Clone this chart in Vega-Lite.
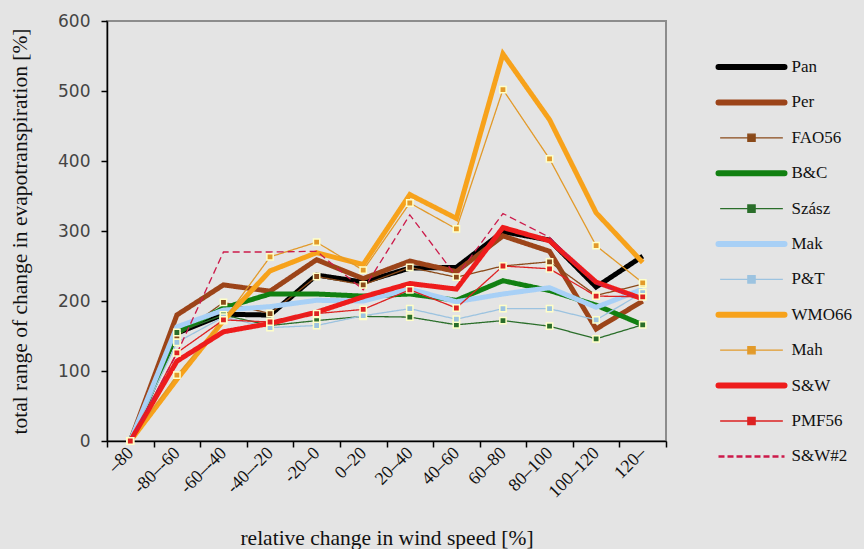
{
  "$schema": "https://vega.github.io/schema/vega-lite/v6.json",
  "width": 559,
  "height": 420,
  "autosize": "none",
  "padding": {"left": 107, "top": 21, "right": 198, "bottom": 108},
  "background": "#e4e4e4",
  "config": {
    "view": {"fill": "#e4e4e4", "stroke": "#8c8c8c", "strokeWidth": 2},
    "axis": {"domainColor": "#000000", "domainWidth": 1.5, "tickColor": "#000000", "tickWidth": 1.5, "tickSize": 6, "grid": false, "titleFont": "Liberation Serif", "titleFontSize": 21.5, "titleFontWeight": "normal", "titleColor": "#111111"}
  },
  "data": {
    "values": [
      {"c": "–80", "s": "Pan", "v": 0}, {"c": "-80–-60", "s": "Pan", "v": 154}, {"c": "-60–-40", "s": "Pan", "v": 181}, {"c": "-40–-20", "s": "Pan", "v": 180}, {"c": "-20–0", "s": "Pan", "v": 237}, {"c": "0–20", "s": "Pan", "v": 227}, {"c": "20–40", "s": "Pan", "v": 247}, {"c": "40–60", "s": "Pan", "v": 248}, {"c": "60–80", "s": "Pan", "v": 299}, {"c": "80–100", "s": "Pan", "v": 287}, {"c": "100–120", "s": "Pan", "v": 220}, {"c": "120–", "s": "Pan", "v": 264},
      {"c": "–80", "s": "Per", "v": 0}, {"c": "-80–-60", "s": "Per", "v": 180}, {"c": "-60–-40", "s": "Per", "v": 223}, {"c": "-40–-20", "s": "Per", "v": 214}, {"c": "-20–0", "s": "Per", "v": 259}, {"c": "0–20", "s": "Per", "v": 232}, {"c": "20–40", "s": "Per", "v": 257}, {"c": "40–60", "s": "Per", "v": 242}, {"c": "60–80", "s": "Per", "v": 293}, {"c": "80–100", "s": "Per", "v": 271}, {"c": "100–120", "s": "Per", "v": 160}, {"c": "120–", "s": "Per", "v": 200},
      {"c": "–80", "s": "FAO56", "v": 0}, {"c": "-80–-60", "s": "FAO56", "v": 150}, {"c": "-60–-40", "s": "FAO56", "v": 198}, {"c": "-40–-20", "s": "FAO56", "v": 182}, {"c": "-20–0", "s": "FAO56", "v": 235}, {"c": "0–20", "s": "FAO56", "v": 223}, {"c": "20–40", "s": "FAO56", "v": 248}, {"c": "40–60", "s": "FAO56", "v": 234}, {"c": "60–80", "s": "FAO56", "v": 250}, {"c": "80–100", "s": "FAO56", "v": 256}, {"c": "100–120", "s": "FAO56", "v": 208}, {"c": "120–", "s": "FAO56", "v": 224},
      {"c": "–80", "s": "B&C", "v": 0}, {"c": "-80–-60", "s": "B&C", "v": 155}, {"c": "-60–-40", "s": "B&C", "v": 190}, {"c": "-40–-20", "s": "B&C", "v": 210}, {"c": "-20–0", "s": "B&C", "v": 210}, {"c": "0–20", "s": "B&C", "v": 207}, {"c": "20–40", "s": "B&C", "v": 210}, {"c": "40–60", "s": "B&C", "v": 201}, {"c": "60–80", "s": "B&C", "v": 229}, {"c": "80–100", "s": "B&C", "v": 215}, {"c": "100–120", "s": "B&C", "v": 194}, {"c": "120–", "s": "B&C", "v": 166},
      {"c": "–80", "s": "Szász", "v": 0}, {"c": "-80–-60", "s": "Szász", "v": 155}, {"c": "-60–-40", "s": "Szász", "v": 180}, {"c": "-40–-20", "s": "Szász", "v": 165}, {"c": "-20–0", "s": "Szász", "v": 172}, {"c": "0–20", "s": "Szász", "v": 178}, {"c": "20–40", "s": "Szász", "v": 177}, {"c": "40–60", "s": "Szász", "v": 166}, {"c": "60–80", "s": "Szász", "v": 172}, {"c": "80–100", "s": "Szász", "v": 164}, {"c": "100–120", "s": "Szász", "v": 146}, {"c": "120–", "s": "Szász", "v": 166},
      {"c": "–80", "s": "Mak", "v": 0}, {"c": "-80–-60", "s": "Mak", "v": 163}, {"c": "-60–-40", "s": "Mak", "v": 187}, {"c": "-40–-20", "s": "Mak", "v": 192}, {"c": "-20–0", "s": "Mak", "v": 201}, {"c": "0–20", "s": "Mak", "v": 200}, {"c": "20–40", "s": "Mak", "v": 217}, {"c": "40–60", "s": "Mak", "v": 199}, {"c": "60–80", "s": "Mak", "v": 210}, {"c": "80–100", "s": "Mak", "v": 219}, {"c": "100–120", "s": "Mak", "v": 191}, {"c": "120–", "s": "Mak", "v": 217},
      {"c": "–80", "s": "P&T", "v": 0}, {"c": "-80–-60", "s": "P&T", "v": 141}, {"c": "-60–-40", "s": "P&T", "v": 177}, {"c": "-40–-20", "s": "P&T", "v": 162}, {"c": "-20–0", "s": "P&T", "v": 165}, {"c": "0–20", "s": "P&T", "v": 179}, {"c": "20–40", "s": "P&T", "v": 189}, {"c": "40–60", "s": "P&T", "v": 174}, {"c": "60–80", "s": "P&T", "v": 189}, {"c": "80–100", "s": "P&T", "v": 189}, {"c": "100–120", "s": "P&T", "v": 173}, {"c": "120–", "s": "P&T", "v": 212},
      {"c": "–80", "s": "WMO66", "v": 0}, {"c": "-80–-60", "s": "WMO66", "v": 88}, {"c": "-60–-40", "s": "WMO66", "v": 172}, {"c": "-40–-20", "s": "WMO66", "v": 243}, {"c": "-20–0", "s": "WMO66", "v": 269}, {"c": "0–20", "s": "WMO66", "v": 252}, {"c": "20–40", "s": "WMO66", "v": 352}, {"c": "40–60", "s": "WMO66", "v": 318}, {"c": "60–80", "s": "WMO66", "v": 553}, {"c": "80–100", "s": "WMO66", "v": 459}, {"c": "100–120", "s": "WMO66", "v": 326}, {"c": "120–", "s": "WMO66", "v": 255},
      {"c": "–80", "s": "Mah", "v": 0}, {"c": "-80–-60", "s": "Mah", "v": 94}, {"c": "-60–-40", "s": "Mah", "v": 172}, {"c": "-40–-20", "s": "Mah", "v": 263}, {"c": "-20–0", "s": "Mah", "v": 284}, {"c": "0–20", "s": "Mah", "v": 244}, {"c": "20–40", "s": "Mah", "v": 340}, {"c": "40–60", "s": "Mah", "v": 303}, {"c": "60–80", "s": "Mah", "v": 502}, {"c": "80–100", "s": "Mah", "v": 403}, {"c": "100–120", "s": "Mah", "v": 279}, {"c": "120–", "s": "Mah", "v": 226},
      {"c": "–80", "s": "S&W", "v": 0}, {"c": "-80–-60", "s": "S&W", "v": 114}, {"c": "-60–-40", "s": "S&W", "v": 156}, {"c": "-40–-20", "s": "S&W", "v": 168}, {"c": "-20–0", "s": "S&W", "v": 184}, {"c": "0–20", "s": "S&W", "v": 206}, {"c": "20–40", "s": "S&W", "v": 225}, {"c": "40–60", "s": "S&W", "v": 217}, {"c": "60–80", "s": "S&W", "v": 305}, {"c": "80–100", "s": "S&W", "v": 286}, {"c": "100–120", "s": "S&W", "v": 227}, {"c": "120–", "s": "S&W", "v": 203},
      {"c": "–80", "s": "PMF56", "v": 0}, {"c": "-80–-60", "s": "PMF56", "v": 126}, {"c": "-60–-40", "s": "PMF56", "v": 173}, {"c": "-40–-20", "s": "PMF56", "v": 170}, {"c": "-20–0", "s": "PMF56", "v": 182}, {"c": "0–20", "s": "PMF56", "v": 188}, {"c": "20–40", "s": "PMF56", "v": 216}, {"c": "40–60", "s": "PMF56", "v": 190}, {"c": "60–80", "s": "PMF56", "v": 250}, {"c": "80–100", "s": "PMF56", "v": 246}, {"c": "100–120", "s": "PMF56", "v": 207}, {"c": "120–", "s": "PMF56", "v": 206},
      {"c": "–80", "s": "S&W#2", "v": 0}, {"c": "-80–-60", "s": "S&W#2", "v": 125}, {"c": "-60–-40", "s": "S&W#2", "v": 270}, {"c": "-40–-20", "s": "S&W#2", "v": 270}, {"c": "-20–0", "s": "S&W#2", "v": 271}, {"c": "0–20", "s": "S&W#2", "v": 216}, {"c": "20–40", "s": "S&W#2", "v": 323}, {"c": "40–60", "s": "S&W#2", "v": 235}, {"c": "60–80", "s": "S&W#2", "v": 325}, {"c": "80–100", "s": "S&W#2", "v": 291}, {"c": "100–120", "s": "S&W#2", "v": 225}, {"c": "120–", "s": "S&W#2", "v": 203}
    ]
  },
  "encoding": {
    "x": {
      "field": "c", "type": "nominal",
      "sort": ["–80", "-80–-60", "-60–-40", "-40–-20", "-20–0", "0–20", "20–40", "40–60", "60–80", "80–100", "100–120", "120–"],
      "scale": {"type": "band", "paddingInner": 0, "paddingOuter": 0},
      "axis": {"title": "relative change in wind speed [%]", "tickBand": "extent", "labelAngle": -45, "labelAlign": "right", "labelBaseline": "middle", "labelFont": "Liberation Serif", "labelFontSize": 18, "labelColor": "#111111", "labelPadding": 3, "titlePadding": 27}
    },
    "y": {
      "field": "v", "type": "quantitative",
      "scale": {"domain": [0, 600], "nice": false, "zero": true},
      "axis": {"title": "total range of change in evapotranspiration [%]", "values": [0, 100, 200, 300, 400, 500, 600], "labelFont": "DejaVu Sans", "labelFontSize": 17, "labelColor": "#444444", "labelPadding": 11, "titlePadding": 26}
    },
    "color": {
      "field": "s", "type": "nominal",
      "scale": {
        "domain": ["Pan", "Per", "FAO56", "B&C", "Szász", "Mak", "P&T", "WMO66", "Mah", "S&W", "PMF56", "S&W#2"],
        "range": ["#000000", "#9c4419", "#8a4a1a", "#118011", "#2a6e2a", "#a8d0f6", "#9cc3e0", "#f7a21b", "#e29a2a", "#ee1c1c", "#dd2222", "#cc1a4a"]
      },
      "legend": {
        "orient": "none", "legendX": 608, "legendY": 31, "title": null, "padding": 0,
        "symbolType": "stroke", "symbolSize": 4356, "symbolStrokeWidth": 5, "symbolOffset": 28, "clipHeight": 30, "rowPadding": 5.4,
        "labelFont": "Liberation Serif", "labelFontSize": 17, "labelColor": "#111111", "labelOffset": 31.5,
        "encode": {
          "symbols": {
            "update": {
              "shape": {"signal": "indexof(['FAO56','Szász','P&T','Mah','PMF56'], datum.value) >= 0 ? 'M-0.95,0L0.95,0M-0.11,-0.11L0.11,-0.11L0.11,0.11L-0.11,0.11Z' : 'stroke'"},
              "strokeWidth": {"signal": "indexof(['Pan','Per','B&C','Mak','WMO66','S&W'], datum.value) >= 0 ? 6 : (datum.value == 'S&W#2' ? 2.5 : 1.3)"},
              "strokeDash": {"signal": "datum.value == 'S&W#2' ? [6,3] : [1,0]"},
              "strokeCap": {"signal": "indexof(['Pan','Per','B&C','Mak','WMO66','S&W'], datum.value) >= 0 ? 'round' : 'butt'"},
              "fill": {"scale": "color", "field": "value"},
              "stroke": {"scale": "color", "field": "value"},
              "opacity": {"value": 1}
            }
          }
        }
      }
    }
  },
  "layer": [
    {
      "mark": {"type": "line", "strokeJoin": "miter"},
      "encoding": {
        "strokeWidth": {"condition": {"test": "indexof(['Pan','Per','B&C','Mak','WMO66','S&W'], datum.s) >= 0", "value": 5}, "value": 1.3},
        "strokeDash": {"condition": {"test": "datum.s == 'S&W#2'", "value": [7, 4]}, "value": [1, 0]}
      }
    },
    {
      "transform": [{"filter": "indexof(['FAO56','Szász','P&T','Mah','PMF56'], datum.s) >= 0"}],
      "mark": {"type": "square", "size": 40, "filled": true, "opacity": 1, "stroke": "#ffffc8", "strokeWidth": 1.5}
    }
  ]
}
